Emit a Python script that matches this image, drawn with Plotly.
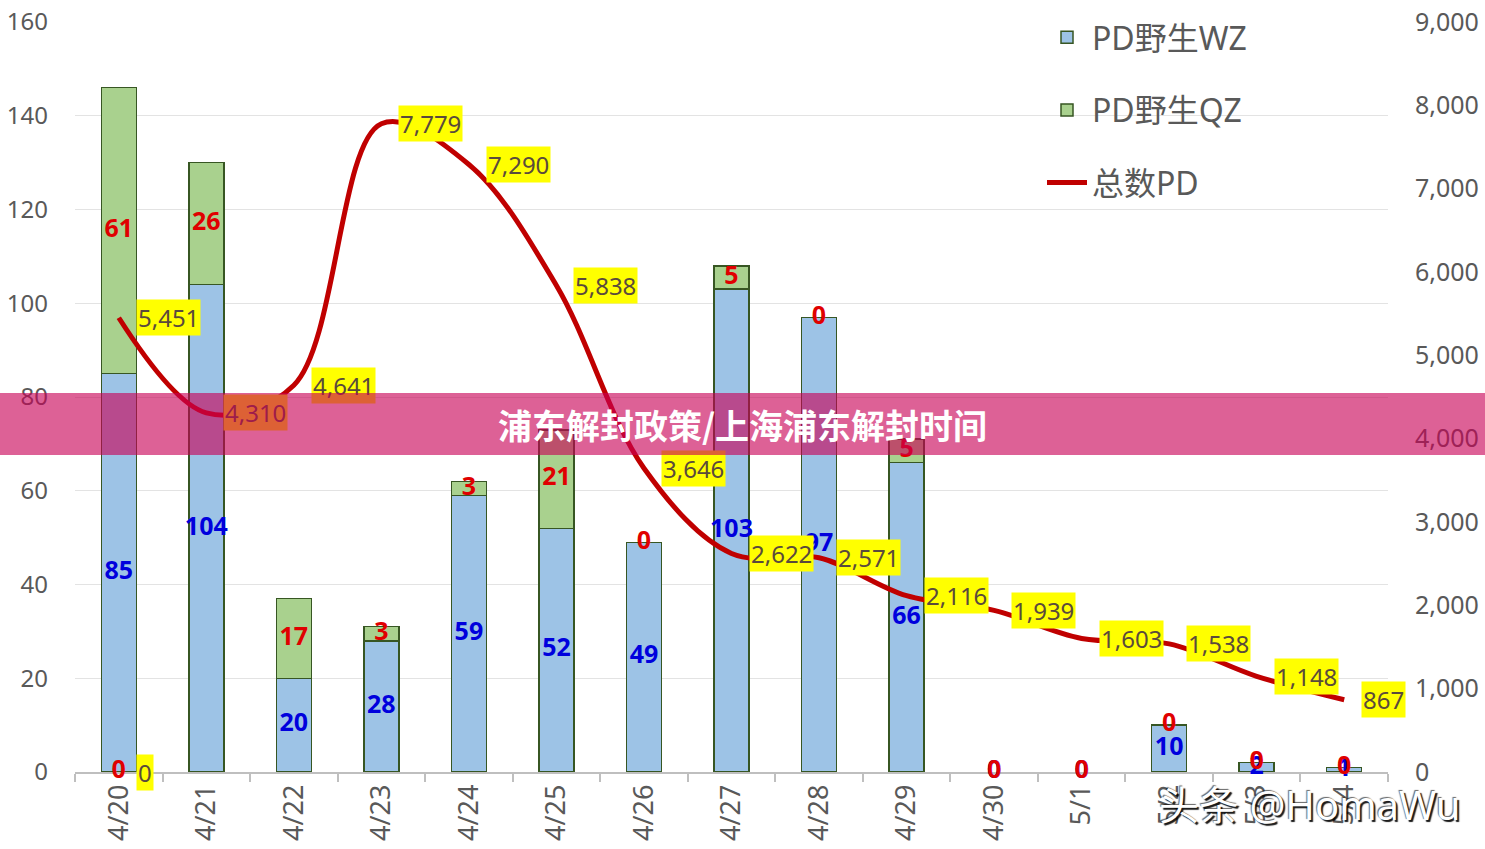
import plotly.graph_objects as go

categories = ["4/20", "4/21", "4/22", "4/23", "4/24", "4/25", "4/26", "4/27",
              "4/28", "4/29", "4/30", "5/1", "5/2", "5/3", "5/4"]
wz_values = [85, 104, 20, 28, 59, 52, 49, 103, 97, 66, 0, 0, 10, 2, 1]
qz_values = [61, 26, 17, 3, 3, 21, 0, 5, 0, 5, 0, 0, 0, 0, 0]
total_pd = [5451, 4310, 4641, 7779, 7290, 5838, 3646, 2622, 2571, 2116,
            1939, 1603, 1538, 1148, 867]
extra_bar_cats = ["4/20"]
extra_bar_vals = [0]
extra_line_cats = ["4/20"]
extra_line_vals = [0]
left_ticks = list(range(0, 161, 20))
right_ticks = list(range(0, 9001, 1000))

FONT = "Noto Sans, Noto Sans CJK SC, sans-serif"
GREY = "#595959"
W, H = 1485, 849
ML, MR, MT, MB = 75, 97, 22, 77
PW, PH = W - ML - MR, H - MT - MB

fig = go.Figure()

fig.add_trace(go.Bar(
    x=categories, y=wz_values, name="PD野生WZ", legendgroup="a",
    marker=dict(color="#9DC3E6",
                line=dict(color="#375623", width=[1.5 if v > 0 else 0 for v in wz_values])),
    width=0.4, hoverinfo="skip"))
fig.add_trace(go.Bar(
    x=categories, y=qz_values, name="PD野生QZ", legendgroup="b",
    marker=dict(color="#A9D18E",
                line=dict(color="#375623", width=[1.5 if v > 0 else 0 for v in qz_values])),
    width=0.4, hoverinfo="skip"))

# bar data labels
wz_mid = [v / 2 for v in wz_values]
qz_mid = [w + q / 2 for w, q in zip(wz_values, qz_values)]
LBL = 25
fig.add_trace(go.Scatter(
    x=categories, y=wz_mid, mode="text", text=[str(v) for v in wz_values],
    texttemplate="<b>%{text}</b>", textposition="middle center", cliponaxis=False,
    textfont=dict(family=FONT, size=LBL, color="#0000DD"),
    showlegend=False, hoverinfo="skip"))
fig.add_trace(go.Scatter(
    x=categories, y=qz_mid, mode="text", text=[str(v) for v in qz_values],
    texttemplate="<b>%{text}</b>", textposition="middle center", cliponaxis=False,
    textfont=dict(family=FONT, size=LBL, color="#E00000"),
    showlegend=False, hoverinfo="skip"))
fig.add_trace(go.Scatter(
    x=extra_bar_cats, y=extra_bar_vals, mode="text",
    text=[str(v) for v in extra_bar_vals], cliponaxis=False,
    texttemplate="<b>%{text}</b>", textposition="middle center",
    textfont=dict(family=FONT, size=LBL, color="#E00000"),
    showlegend=False, hoverinfo="skip"))

fig.add_trace(go.Scatter(
    x=categories, y=total_pd, name="总数PD", legendgroup="c", yaxis="y2",
    mode="lines", line=dict(color="#C00000", width=5, shape="spline", smoothing=1),
    hoverinfo="skip"))

annotations = []
for c, v in list(zip(categories, total_pd)) + list(zip(extra_line_cats, extra_line_vals)):
    annotations.append(dict(
        x=c, y=v, xref="x", yref="y2", xanchor="left", yanchor="middle",
        xshift=17, showarrow=False, text=f"{v:,}",
        bgcolor="#FFFF00", borderpad=1,
        font=dict(family=FONT, size=24, color="#5A4A3C")))

# watermark
annotations.append(dict(
    x=(1310 - ML) / PW, y=(H - MB - 804) / PH, xref="paper", yref="paper",
    xanchor="center", yanchor="middle", showarrow=False,
    text="头条 @HomaWu",
    font=dict(family=FONT, size=40, color="white",
              shadow="2px 2px 1px rgba(0,0,0,0.9), -1px -1px 1px rgba(0,0,0,0.6)")))

# title banner
annotations.append(dict(
    x=(W / 2 - ML) / PW, y=(H - MB - 424) / PH, xref="paper", yref="paper",
    xanchor="center", yanchor="middle", showarrow=False,
    width=W + 4, height=62, borderpad=0, borderwidth=0,
    bgcolor="rgba(200,0,85,0.62)",
    text="<b>浦东解封政策/上海浦东解封时间</b>",
    font=dict(family="Noto Sans CJK SC, sans-serif", size=34, color="white")))

fig.update_layout(
    width=W, height=H,
    margin=dict(l=ML, r=MR, t=MT, b=MB, pad=0, autoexpand=False),
    paper_bgcolor="white", plot_bgcolor="white",
    barmode="stack", bargap=0.6,
    font=dict(family=FONT, color=GREY),
    showlegend=True,
    legend=dict(x=(1042 - ML) / PW, y=1.0 + 12 / PH, xanchor="left", yanchor="top",
                bgcolor="rgba(0,0,0,0)", traceorder="grouped",
                tracegroupgap=28, itemwidth=40,
                font=dict(family=FONT, size=32, color=GREY)),
    xaxis=dict(type="category", categoryorder="array", categoryarray=categories,
               tickangle=-90, tickfont=dict(size=27, color=GREY),
               showline=True, linecolor="#BFBFBF", linewidth=1.5,
               ticks="outside", tickson="boundaries", ticklen=8,
               tickcolor="#BFBFBF", tickwidth=1.5, showgrid=False,
               ticklabelstandoff=0, range=[-0.5, len(categories) - 0.5],
               automargin=False, layer="below traces"),
    yaxis=dict(range=[0, 160], tickvals=left_ticks,
               tickfont=dict(size=24, color=GREY),
               showgrid=True, gridcolor="#E3E3E3", gridwidth=1,
               zeroline=False, showline=False, ticks="",
               ticklabelstandoff=26, automargin=False),
    yaxis2=dict(range=[0, 9000], tickvals=right_ticks, tickformat=",",
                overlaying="y", side="right",
                tickfont=dict(size=25, color=GREY),
                showgrid=False, zeroline=False, showline=False, ticks="",
                ticklabelstandoff=26, automargin=False),
    annotations=annotations,
)

fig.write_html("out.html")
